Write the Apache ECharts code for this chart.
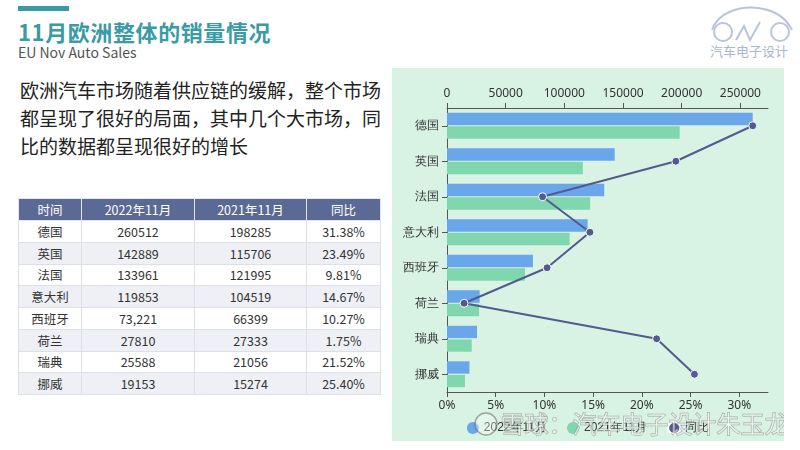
<!DOCTYPE html>
<html>
<head>
<meta charset="utf-8">
<script src="https://cdn.jsdelivr.net/npm/echarts@6/dist/echarts.min.js"></script>
<style>
  html, body { margin: 0; padding: 0; width: 800px; height: 450px; background: #fff; overflow: hidden;
    font-family: "Noto Sans CJK SC", "Noto Sans", sans-serif; }
  #bar { position: absolute; left: 18px; top: 6px; width: 51px; height: 5px; background: #3a9aa5; }
  #title { position: absolute; left: 18px; top: 15px; font-size: 22px; font-weight: bold; color: #3a9aa5; letter-spacing: 0.6px; line-height: 32px; }
  #sub { position: absolute; left: 18px; top: 43px; font-size: 14px; color: #555; line-height: 18px; }
  #para { position: absolute; left: 20px; top: 76px; width: 368px; font-size: 19px; color: #222; line-height: 28px; }
  #tbl { position: absolute; left: 18px; top: 198px; border-collapse: collapse; font-size: 12.5px; color: #333; }
  #tbl th { background: #5b6a94; color: #fff; font-weight: normal; height: 21px; padding: 0; border: 1px solid #e2e5ec; }
  #tbl td { height: 20.75px; padding: 0; text-align: center; border: 1px solid #dde0e7; }
  #tbl tr:nth-child(odd) td { background: #eef0f5; }
  #logo { position: absolute; left: 700px; top: 2px; width: 98px; height: 58px; }
  #chart { position: absolute; left: 392px; top: 68px; width: 392px; height: 373px; }
</style>
</head>
<body>
<div id="bar"></div>
<div id="title">11月欧洲整体的销量情况</div>
<div id="sub">EU Nov Auto Sales</div>
<div id="para">欧洲汽车市场随着供应链的缓解，整个市场都呈现了很好的局面，其中几个大市场，同比的数据都呈现很好的增长</div>
<table id="tbl"></table>
<svg id="logo" viewBox="0 0 98 58">
  <g fill="none" stroke="#b9c4dc" stroke-width="2">
    <path d="M12 28 C 18 10, 40 4, 58 6 C 74 8, 86 16, 92 28"/>
    <circle cx="23" cy="30" r="9"/>
    <circle cx="80" cy="30" r="9"/>
    <path d="M36 38 L 44 24 L 50 38 L 60 20"/>
  </g>
  <text x="49" y="54" text-anchor="middle" font-size="13" fill="#a9b6d3" font-family="Noto Sans CJK SC">汽车电子设计</text>
</svg>
<div id="chart"></div>
<script>
const categories = ['德国', '英国', '法国', '意大利', '西班牙', '荷兰', '瑞典', '挪威'];
const sales2022 = [260512, 142889, 133961, 119853, 73221, 27810, 25588, 19153];
const sales2021 = [198285, 115706, 121995, 104519, 66399, 27333, 21056, 15274];
const yoy = [31.38, 23.49, 9.81, 14.67, 10.27, 1.75, 21.52, 25.40];
const tableHeader = ['时间', '2022年11月', '2021年11月', '同比'];
const colWidths = [62, 112, 111, 73];
const seriesNames = ['2022年11月', '2021年11月', '同比'];

// table
const tbl = document.getElementById('tbl');
let html = '<tr>' + tableHeader.map((h, i) => `<th style="width:${colWidths[i]}px">${h}</th>`).join('') + '</tr>';
categories.forEach((c, i) => {
  const v22 = (c === '西班牙') ? sales2022[i].toLocaleString('en-US') : String(sales2022[i]);
  html += `<tr><td>${c}</td><td>${v22}</td><td>${sales2021[i]}</td><td>${yoy[i].toFixed(2)}%</td></tr>`;
});
tbl.innerHTML = html;

const chart = echarts.init(document.getElementById('chart'), null, { renderer: 'canvas' });
const axisTxt = { color: '#333', fontSize: 12, fontFamily: 'Noto Sans, sans-serif' };
chart.setOption({
  backgroundColor: '#d8f2e4',
  animation: false,
  grid: { left: 55, top: 40, right: 16, bottom: 49, containLabel: false },
  legend: {
    data: seriesNames, left: 'center', top: 348, itemWidth: 12, itemHeight: 12, itemGap: 20,
    icon: 'circle', textStyle: { color: '#333', fontSize: 12 }
  },
  xAxis: [
    {
      type: 'value', position: 'top', min: 0, interval: 50000,
      max: v => v.max * 1.05,
      axisLine: { show: true, lineStyle: { color: '#555' } },
      axisTick: { show: true, lineStyle: { color: '#555' } },
      splitLine: { show: false },
      axisLabel: Object.assign({ showMaxLabel: false, formatter: v => String(v) }, axisTxt)
    },
    {
      type: 'value', position: 'bottom', min: 0, interval: 5,
      max: v => v.max * 1.05,
      axisLine: { show: true, lineStyle: { color: '#555' } },
      axisTick: { show: true, lineStyle: { color: '#555' } },
      splitLine: { show: false },
      axisLabel: Object.assign({ formatter: '{value}%', showMaxLabel: false }, axisTxt)
    }
  ],
  yAxis: {
    type: 'category', data: categories, inverse: true,
    axisLine: { show: true, lineStyle: { color: '#555' } },
    axisTick: { show: true, alignWithLabel: true, lineStyle: { color: '#555' } },
    axisLabel: axisTxt
  },
  series: [
    { name: seriesNames[0], type: 'bar', xAxisIndex: 0, data: sales2022, barGap: '10%', barCategoryGap: '27%',
      itemStyle: { color: '#6aa6ea' } },
    { name: seriesNames[1], type: 'bar', xAxisIndex: 0, data: sales2021,
      itemStyle: { color: '#80d6ae' } },
    { name: seriesNames[2], type: 'line', xAxisIndex: 1, data: yoy, symbol: 'circle', symbolSize: 8,
      lineStyle: { color: '#525b8e', width: 2 },
      itemStyle: { color: '#525b8e', borderColor: '#fff', borderWidth: 1 } }
  ],
  graphic: [
    { type: 'circle', shape: { cx: 94, cy: 356, r: 11 }, z: 100,
      style: { fill: 'rgba(255,255,255,0.35)', stroke: 'rgba(110,110,110,0.6)', lineWidth: 1.5 } },
    { type: 'text', left: 108, top: 343, z: 100,
      style: { text: '雪球：汽车电子设计朱玉龙', fontSize: 24, fontFamily: 'Noto Sans CJK SC',
        fill: 'rgba(255,255,255,0.55)', stroke: 'rgba(110,110,110,0.55)', lineWidth: 1 } }
  ]
});
</script>
</body>
</html>
